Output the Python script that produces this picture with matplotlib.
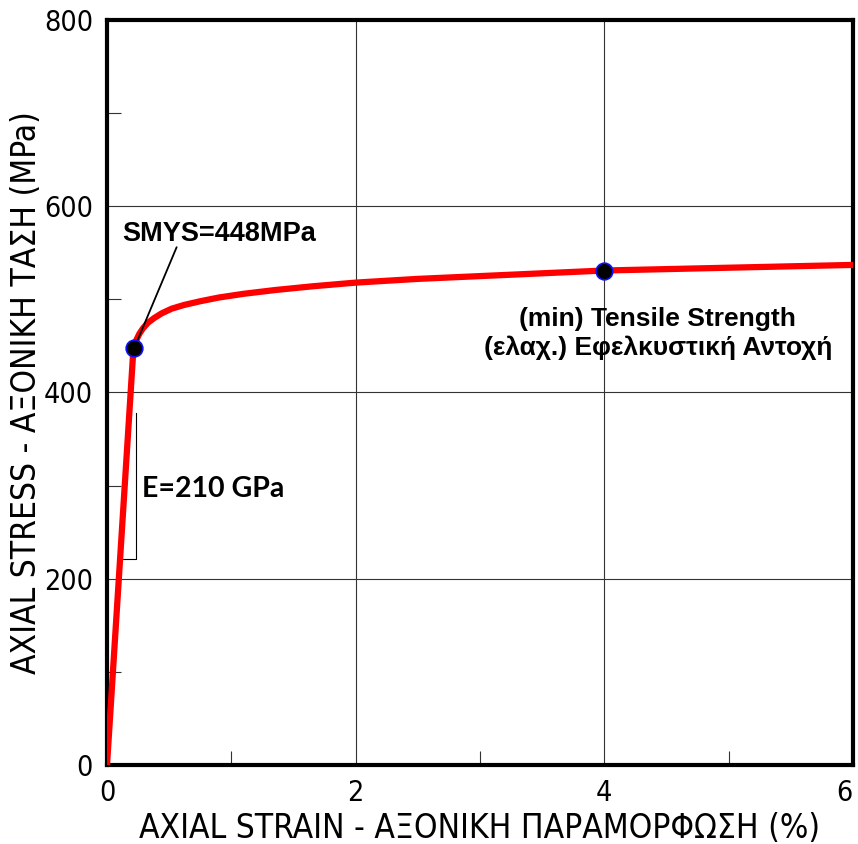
import matplotlib
matplotlib.use("Agg")
import matplotlib.pyplot as plt
from matplotlib import font_manager
from matplotlib.ticker import MultipleLocator

# stress-strain curve
strain = [0, 0.213, 0.235, 0.26, 0.29, 0.33, 0.38, 0.44, 0.52, 0.62, 0.75, 0.9, 1.1, 1.35, 1.65, 2.0, 2.5, 3.0, 3.5, 4.0, 5.0, 6.0]
stress = [0, 448, 456, 463, 469, 475, 480, 485, 490, 494, 498, 502, 506, 510, 514, 518, 522, 525, 528, 531, 534, 537]

pts_x = [0.22, 4.0]
pts_y = [448, 531]

xticks = [0, 2, 4, 6]
yticks = [0, 200, 400, 600, 800]

# narrow face for axis text if one is around
have = {(f.name, f.stretch) for f in font_manager.fontManager.ttflist}
names = {f.name for f in font_manager.fontManager.ttflist}
if 'Liberation Sans Narrow' in names:
    axis_font = dict(family=['Liberation Sans Narrow', 'DejaVu Sans'])
    tick_size, lab_size = 21, 24
elif any(n == 'DejaVu Sans' and s in ('condensed', 'semi-condensed') for n, s in have):
    axis_font = dict(family=['DejaVu Sans'], stretch='condensed')
    tick_size, lab_size = 20.5, 24
else:
    axis_font = dict(family=['Liberation Sans', 'DejaVu Sans'])
    tick_size, lab_size = 18, 20.5

plt.rcParams['font.family'] = axis_font['family']
if 'stretch' in axis_font:
    plt.rcParams['font.stretch'] = axis_font['stretch']

bold = ['Liberation Sans', 'DejaVu Sans']

fig = plt.figure(figsize=(8.58, 8.44), dpi=100)
ax = fig.add_axes([107/858, 1-765/844, 746/858, 745/844])

ax.plot(strain, stress, color='#ff0000', lw=4.5, solid_capstyle='round', solid_joinstyle='round', zorder=3)
ax.plot(pts_x, pts_y, 'o', ms=12, mfc='black', mec='#1010ff', mew=1.2, zorder=4)

# slope triangle for E
ax.plot([0.11, 0.23, 0.23], [221, 221, 378], color='black', lw=0.8, zorder=2)

# SMYS leader + label
ax.annotate('', xy=(pts_x[0], pts_y[0]), xytext=(0.56, 556),
            arrowprops=dict(arrowstyle='-', color='black', lw=1.3, shrinkA=0, shrinkB=0))
ax.text(0.9, 570, 'SMYS=448MPa', ha='center', va='center', fontsize=19.5,
        fontweight='bold', family=bold, stretch='normal')
ax.text(0.28, 296, 'E=210 GPa', fontsize=20.5, fontweight='bold',
        family=['Lato', 'DejaVu Sans'], stretch='normal', ha='left', va='center')
ax.text(4.43, 479, '(min) Tensile Strength', fontsize=19, fontweight='bold',
        family=bold, stretch='normal', ha='center', va='center')
ax.text(4.43, 448, '(ελαχ.) Εφελκυστική Αντοχή', fontsize=19, fontweight='bold',
        family=bold, stretch='normal', ha='center', va='center')

ax.set_xlim(0, 6)
ax.set_ylim(0, 800)
ax.set_xticks(xticks)
ax.set_yticks(yticks)
ax.xaxis.set_minor_locator(MultipleLocator(1))
ax.yaxis.set_minor_locator(MultipleLocator(100))
ax.grid(True, which='major', color='#333333', lw=0.8)
ax.tick_params(which='major', length=0, labelsize=tick_size, pad=10)
ax.tick_params(which='minor', direction='in', length=10, width=0.8, color='#333333')
for s in ax.spines.values():
    s.set_linewidth(3)
ax.set_xlabel('AXIAL STRAIN - ΑΞΟΝΙΚΗ ΠΑΡΑΜΟΡΦΩΣΗ (%)', fontsize=lab_size, labelpad=4)
ax.set_ylabel('AXIAL STRESS - ΑΞΟΝΙΚΗ ΤΑΣΗ (MPa)', fontsize=lab_size, labelpad=1)

# keep the last strain label inside the figure
fig.canvas.draw()
ax.get_xticklabels()[-1].set_horizontalalignment('right')

fig.savefig('out.png', dpi=100)
